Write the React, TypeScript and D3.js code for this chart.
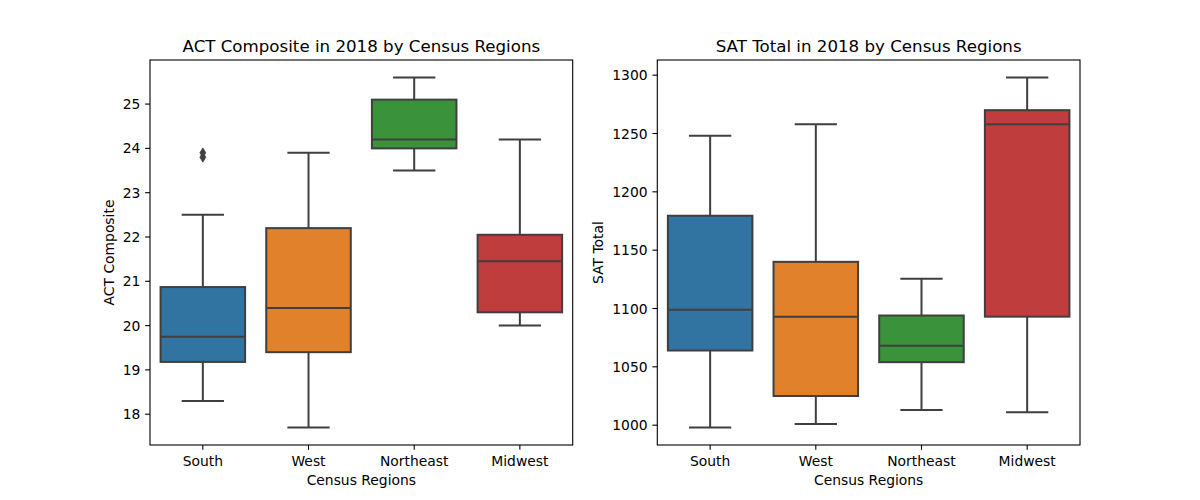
import React from "react";
import * as d3 from "d3";

const regions = ["South", "West", "Northeast", "Midwest"];
const colors = ["#3274a1", "#e1812c", "#3a923a", "#c03d3e"];

const actMin = [18.3, 17.7, 23.5, 20.0];
const actQ1 = [19.18, 19.4, 24.0, 20.3];
const actMedian = [19.75, 20.4, 24.2, 21.45];
const actQ3 = [20.87, 22.2, 25.1, 22.05];
const actMax = [22.5, 23.9, 25.6, 24.2];
const actOutliers = [[23.8, 23.9], [], [], []];
const actTicks = [18, 19, 20, 21, 22, 23, 24, 25];

const satMin = [998, 1001, 1013, 1011];
const satQ1 = [1064, 1025, 1054, 1093];
const satMedian = [1099, 1093, 1068, 1258];
const satQ3 = [1179.5, 1140, 1094, 1270];
const satMax = [1248, 1258, 1125.5, 1298];
const satOutliers: number[][] = [[], [], [], []];
const satTicks = [1000, 1050, 1100, 1150, 1200, 1250, 1300];

const FONT = "DejaVu Sans, sans-serif";
const LINE = "#3f3f3f";
const LW = 2;

type PanelProps = {
  left: number;
  right: number;
  top: number;
  bottom: number;
  title: string;
  ylabel: string;
  ylabelOffset: number;
  mins: number[];
  q1s: number[];
  meds: number[];
  q3s: number[];
  maxs: number[];
  outliers: number[][];
  ticks: number[];
  fmt: (v: number) => string;
};

function Panel(p: PanelProps) {
  const all = [...p.mins, ...p.maxs, ...p.outliers.flat()];
  const lo = d3.min(all) as number;
  const hi = d3.max(all) as number;
  const m = (hi - lo) * 0.05;
  const y = d3.scaleLinear().domain([lo - m, hi + m]).range([p.bottom, p.top]);
  const x = d3
    .scaleBand<string>()
    .domain(regions)
    .range([p.left, p.right])
    .paddingInner(0.2)
    .paddingOuter(0.1);
  const bw = x.bandwidth();
  const cx = (r: string) => (x(r) as number) + bw / 2;
  const tickLen = 4.86;
  const diamond = (px: number, py: number) => {
    const h = 4.9;
    const w = 2.95;
    return `M${px},${py - h}L${px + w},${py}L${px},${py + h}L${px - w},${py}Z`;
  };
  return (
    <g>
      {regions.map((r, i) => {
        const c = cx(r);
        const x0 = x(r) as number;
        return (
          <g key={r}>
            <line x1={c} x2={c} y1={y(p.q3s[i])} y2={y(p.maxs[i])} stroke={LINE} strokeWidth={LW} />
            <line x1={c} x2={c} y1={y(p.q1s[i])} y2={y(p.mins[i])} stroke={LINE} strokeWidth={LW} />
            <line x1={c - bw / 4} x2={c + bw / 4} y1={y(p.maxs[i])} y2={y(p.maxs[i])} stroke={LINE} strokeWidth={LW} />
            <line x1={c - bw / 4} x2={c + bw / 4} y1={y(p.mins[i])} y2={y(p.mins[i])} stroke={LINE} strokeWidth={LW} />
            <rect
              x={x0}
              y={y(p.q3s[i])}
              width={bw}
              height={y(p.q1s[i]) - y(p.q3s[i])}
              fill={colors[i]}
              stroke={LINE}
              strokeWidth={LW}
            />
            <line x1={x0} x2={x0 + bw} y1={y(p.meds[i])} y2={y(p.meds[i])} stroke={LINE} strokeWidth={LW} />
            {p.outliers[i].map((o, j) => (
              <path key={j} d={diamond(c, y(o))} fill={LINE} stroke={LINE} strokeWidth={0.8} />
            ))}
          </g>
        );
      })}
      <rect x={p.left} y={p.top} width={p.right - p.left} height={p.bottom - p.top} fill="none" stroke="#000" strokeWidth={1.1} />
      {regions.map((r) => (
        <g key={r}>
          <line x1={cx(r)} x2={cx(r)} y1={p.bottom} y2={p.bottom + tickLen} stroke="#000" strokeWidth={1.1} />
          <text x={cx(r)} y={466} textAnchor="middle" fontFamily={FONT} fontSize={13.89} fill="#000">
            {r}
          </text>
        </g>
      ))}
      {p.ticks.map((t) => (
        <g key={t}>
          <line x1={p.left - tickLen} x2={p.left} y1={y(t)} y2={y(t)} stroke="#000" strokeWidth={1.1} />
          <text x={p.left - 9.7} y={y(t)} dy="0.36em" textAnchor="end" fontFamily={FONT} fontSize={13.89} fill="#000">
            {p.fmt(t)}
          </text>
        </g>
      ))}
      <text x={(p.left + p.right) / 2} y={52} textAnchor="middle" fontFamily={FONT} fontSize={16.67} fill="#000">
        {p.title}
      </text>
      <text x={(p.left + p.right) / 2} y={485} textAnchor="middle" fontFamily={FONT} fontSize={13.89} fill="#000">
        Census Regions
      </text>
      <text
        transform={`translate(${p.left - p.ylabelOffset},${(p.top + p.bottom) / 2}) rotate(-90)`}
        textAnchor="middle"
        fontFamily={FONT}
        fontSize={13.89}
        fill="#000"
      >
        {p.ylabel}
      </text>
    </g>
  );
}

export default function App() {
  return (
    <svg
      width={1200}
      height={500}
      style={{ position: "absolute", left: 0, top: 0, background: "#fff" }}
    >
      <rect width={1200} height={500} fill="#fff" />
      <Panel
        left={150}
        right={572.7}
        top={60}
        bottom={445}
        title="ACT Composite in 2018 by Census Regions"
        ylabel="ACT Composite"
        ylabelOffset={36}
        mins={actMin}
        q1s={actQ1}
        meds={actMedian}
        q3s={actQ3}
        maxs={actMax}
        outliers={actOutliers}
        ticks={actTicks}
        fmt={(v) => String(v)}
      />
      <Panel
        left={657.3}
        right={1080}
        top={60}
        bottom={445}
        title="SAT Total in 2018 by Census Regions"
        ylabel="SAT Total"
        ylabelOffset={54.6}
        mins={satMin}
        q1s={satQ1}
        meds={satMedian}
        q3s={satQ3}
        maxs={satMax}
        outliers={satOutliers}
        ticks={satTicks}
        fmt={(v) => String(v)}
      />
    </svg>
  );
}
